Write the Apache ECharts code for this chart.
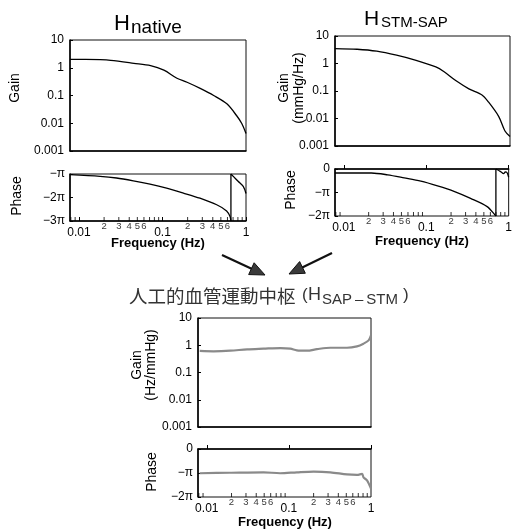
<!DOCTYPE html>
<html><head><meta charset="utf-8">
<script src="https://cdn.jsdelivr.net/npm/echarts@6/dist/echarts.min.js"></script>
<style>html,body{margin:0;padding:0;background:#fff}#c{width:515px;height:532px}</style>
</head><body><div id="c"></div><script>
// ---------- data (frequency in Hz, gain, phase in units of pi) ----------
const nativeGainFreq = [0.0078, 0.012, 0.018, 0.024, 0.0455, 0.072, 0.104, 0.149, 0.197, 0.283, 0.41, 0.59, 0.77, 0.89, 1.0];
const nativeGain     = [2.0, 2.0, 1.95, 1.85, 1.45, 1.2, 0.82, 0.42, 0.3, 0.18, 0.10, 0.05, 0.019, 0.0098, 0.0043];
const nativePhaseFreq = [0.0078, 0.0179, 0.0282, 0.0448, 0.071, 0.112, 0.178, 0.281, 0.446, 0.586, 0.644, 0.66, 0.66, 0.705, 0.81, 0.93, 1.0];
const nativePhase     = [-1.03, -1.10, -1.17, -1.29, -1.43, -1.60, -1.81, -2.03, -2.31, -2.57, -2.81, -3.0, -1.0, -1.1, -1.32, -1.54, -1.83];

const stmGainFreq = [0.0078, 0.0144, 0.0249, 0.043, 0.074, 0.128, 0.161, 0.222, 0.32, 0.46, 0.55, 0.73, 0.87, 1.0];
const stmGain     = [3.5, 3.3, 2.8, 2.0, 1.3, 0.75, 0.5, 0.24, 0.12, 0.072, 0.04, 0.012, 0.0035, 0.0022];
const stmPhaseFreq = [0.0078, 0.0216, 0.034, 0.054, 0.086, 0.137, 0.217, 0.345, 0.548, 0.68, 0.70, 0.70, 0.79, 0.87, 0.91, 0.955, 1.0];
const stmPhase     = [-0.17, -0.17, -0.25, -0.38, -0.52, -0.72, -0.95, -1.25, -1.6, -1.95, -2.0, 0, -0.1, -0.2, -0.12, -0.15, -0.35];

const artGainFreq = [0.0082, 0.0121, 0.0194, 0.031, 0.049, 0.079, 0.104, 0.125, 0.166, 0.22, 0.32, 0.51, 0.675, 0.81, 0.935, 1.0];
const artGain     = [0.62, 0.60, 0.63, 0.71, 0.75, 0.79, 0.75, 0.65, 0.63, 0.72, 0.81, 0.81, 0.91, 1.14, 1.51, 2.31];
const artPhaseFreq = [0.0082, 0.019, 0.049, 0.078, 0.125, 0.2, 0.32, 0.51, 0.675, 0.78, 0.81, 0.89, 0.96, 1.0];
const artPhase     = [-1.01, -0.99, -0.97, -1.01, -0.97, -0.94, -0.97, -1.06, -1.08, -1.04, -1.18, -1.30, -1.51, -1.65];

// ---------- tick labels ----------
const gainTickLabels = ['0.001', '0.01', '0.1', '1', '10'];
const freqTickLabels = ['0.01', '0.1', '1'];
const minorLabelFreq = [0.02, 0.03, 0.04, 0.05, 0.06, 0.2, 0.3, 0.4, 0.5, 0.6];
const minorLabelText = ['2', '3', '4', '5', '6', '2', '3', '4', '5', '6'];
const minorTickFreq = [0.008, 0.009, 0.02, 0.03, 0.04, 0.05, 0.06, 0.07, 0.08, 0.09, 0.2, 0.3, 0.4, 0.5, 0.6, 0.7, 0.8, 0.9];

const FONT = 'Liberation Sans, Arial, sans-serif';
const chart = echarts.init(document.getElementById('c'), null, {renderer: 'canvas'});

const grids = [
  {left: 70, top: 40, width: 176, height: 111},   // native gain
  {left: 70, top: 174, width: 176, height: 47},   // native phase
  {left: 335, top: 36, width: 175, height: 110},  // stm gain
  {left: 335, top: 169, width: 175, height: 47},  // stm phase
  {left: 198, top: 318, width: 173, height: 109}, // art gain
  {left: 198, top: 449, width: 173, height: 48}   // art phase
].map(g => Object.assign({show: true, borderColor: '#111', borderWidth: 1, backgroundColor: 'transparent'}, g));

function xAxis(i, labels) {
  return {
    type: 'log', gridIndex: i, min: 0.0078125, max: 1, logBase: 10,
    axisLine: {show: true, lineStyle: {color: '#000', width: 1.5}},
    axisTick: {show: labels, inside: true, length: 4, lineStyle: {color: '#000'}},
    splitLine: {show: false},
    axisLabel: {
      show: labels, margin: 6, fontFamily: FONT, fontSize: 12, color: '#000',
      showMinLabel: false,
      formatter: v => { const e = Math.round(Math.log10(v)); return Math.abs(Math.log10(v) - e) < 1e-6 ? freqTickLabels[e + 2] : ''; }
    }
  };
}
function gainAxis(i) {
  return {
    type: 'log', gridIndex: i, min: 0.001, max: 10, logBase: 10,
    axisLine: {show: true, lineStyle: {color: '#000', width: 1.5}},
    axisTick: {show: true, inside: true, length: 3, lineStyle: {color: '#000'}},
    splitLine: {show: false},
    axisLabel: {margin: 6, fontFamily: FONT, fontSize: 12, color: '#000',
      formatter: v => gainTickLabels[Math.round(Math.log10(v)) + 3]}
  };
}
function phaseAxis(i, min, max) {
  return {
    type: 'value', gridIndex: i, min: min, max: max, interval: 1,
    axisLine: {show: true, lineStyle: {color: '#000', width: 1.5}},
    axisTick: {show: true, inside: true, length: 3, lineStyle: {color: '#000'}},
    splitLine: {show: false},
    axisLabel: {margin: 5, fontFamily: FONT, fontSize: 12, color: '#000',
      formatter: v => v === 0 ? '0' : (v === -1 ? '\u2212\u03c0' : '\u2212' + (-v) + '\u03c0')}
  };
}
const zip = (a, b) => a.map((f, k) => [f, b[k]]);
// split a curve at phase wraps (two points with the same frequency) into smooth pieces + a straight jump
function curves(i, fr, vals, color, width) {
  const pts = zip(fr, vals);
  const out = [];
  let seg = [pts[0]];
  const line = (data, smooth) => ({type: 'line', xAxisIndex: i, yAxisIndex: i, data: data, symbol: 'none',
    smooth: smooth, lineStyle: {color: color, width: width}, silent: true, animation: false});
  for (let k = 1; k < pts.length; k++) {
    if (pts[k][0] === pts[k - 1][0]) {
      out.push(line(seg, 0.3));
      out.push(line([pts[k - 1], pts[k]], false));
      seg = [pts[k]];
    } else seg.push(pts[k]);
  }
  out.push(line(seg, 0.3));
  return out;
}
function minorTicks(i, ymin) {
  return {type: 'scatter', xAxisIndex: i, yAxisIndex: i, silent: true, animation: false,
    symbol: 'rect', symbolSize: [1, 4], symbolOffset: [0, -2], itemStyle: {color: '#000'},
    data: minorTickFreq.map(f => [f, ymin])};
}
function minorLabels(i, ymin) {
  return {type: 'scatter', xAxisIndex: i, yAxisIndex: i, silent: true, animation: false,
    symbolSize: 0.1, itemStyle: {color: 'rgba(0,0,0,0)'},
    label: {show: true, position: 'bottom', distance: 0, formatter: '{b}', fontFamily: FONT, fontSize: 9.5, color: '#000'},
    data: minorLabelFreq.map((f, k) => ({name: minorLabelText[k], value: [f, ymin]}))};
}

function rotText(txt, x, y, size, bold) {
  return {type: 'text', x: x, y: y, rotation: Math.PI / 2,
    style: {text: txt, fontFamily: FONT, fontSize: size, fontWeight: bold ? 'bold' : 'normal', fill: '#000', align: 'center', verticalAlign: 'middle'}};
}
function plainText(txt, x, y, size, opts) {
  return {type: 'text', x: x, y: y,
    style: Object.assign({text: txt, fontFamily: FONT, fontSize: size, fill: '#000', align: 'left', verticalAlign: 'middle'}, opts || {})};
}
function arrow(x1, y1, x2, y2) {
  const dx = x2 - x1, dy = y2 - y1, L = Math.hypot(dx, dy), ux = dx / L, uy = dy / L;
  const hl = 15, hw = 6.5, bx = x2 - hl * ux, by = y2 - hl * uy;
  return [
    {type: 'line', shape: {x1: x1, y1: y1, x2: bx + 2 * ux, y2: by + 2 * uy}, style: {stroke: '#111', lineWidth: 2.2}},
    {type: 'polygon', shape: {points: [[x2, y2], [bx - hw * uy, by + hw * ux], [bx + hw * uy, by - hw * ux]]},
      style: {fill: '#3a3a3a', stroke: '#111', lineWidth: 1}}
  ];
}

const graphics = [
  plainText('H', 114, 24, 22),
  plainText('native', 131, 28, 19),
  plainText('H', 364, 19, 21),
  plainText('STM-SAP', 381, 23, 15),
  rotText('Gain', 15, 88, 14),
  rotText('Phase', 17, 196, 14),
  rotText('Gain', 284, 88, 14),
  rotText('(mmHg/Hz)', 299, 88, 14),
  rotText('Phase', 291, 190, 14),
  rotText('Gain', 137, 365, 14),
  rotText('(Hz/mmHg)', 151, 365, 14),
  rotText('Phase', 152, 472, 14),
  plainText('Frequency (Hz)', 158, 243, 13, {align: 'center', fontWeight: 'bold'}),
  plainText('Frequency (Hz)', 422, 241, 13, {align: 'center', fontWeight: 'bold'}),
  plainText('Frequency (Hz)', 285, 522, 13, {align: 'center', fontWeight: 'bold'}),
  plainText('\u4eba\u5de5\u7684\u8840\u7ba1\u904b\u52d5\u4e2d\u67a2', 129, 296, 18.5, {fontFamily: 'Noto Sans CJK JP', fill: '#333'}),
  plainText('(', 302, 295, 17, {fill: '#333'}),
  plainText('H', 308, 295, 18, {fill: '#333'}),
  plainText('SAP\u2009\u2013\u2009STM', 322, 300, 15, {fill: '#333'}),
  plainText(')', 403, 295, 17, {fill: '#333'})
].concat(arrow(222, 255, 265, 275), arrow(332, 253, 289, 274));

const option = {
  animation: false,
  backgroundColor: '#fff',
  grid: grids,
  xAxis: [xAxis(0, false), xAxis(1, true), xAxis(2, false), xAxis(3, true), xAxis(4, false), xAxis(5, true)],
  yAxis: [gainAxis(0), phaseAxis(1, -3, -1), gainAxis(2), phaseAxis(3, -2, 0), gainAxis(4), phaseAxis(5, -2, 0)],
  series: [].concat(
    curves(0, nativeGainFreq, nativeGain, '#000', 1.3),
    curves(1, nativePhaseFreq, nativePhase, '#000', 1.3),
    curves(2, stmGainFreq, stmGain, '#000', 1.3),
    curves(3, stmPhaseFreq, stmPhase, '#000', 1.3),
    curves(4, artGainFreq, artGain, '#8a8a8a', 2.2),
    curves(5, artPhaseFreq, artPhase, '#8a8a8a', 2.2),
    [minorTicks(1, -3), minorTicks(3, -2), minorTicks(5, -2),
     minorLabels(1, -3), minorLabels(3, -2), minorLabels(5, -2)]
  ),
  graphic: graphics
};
chart.setOption(option);
</script></body></html>
